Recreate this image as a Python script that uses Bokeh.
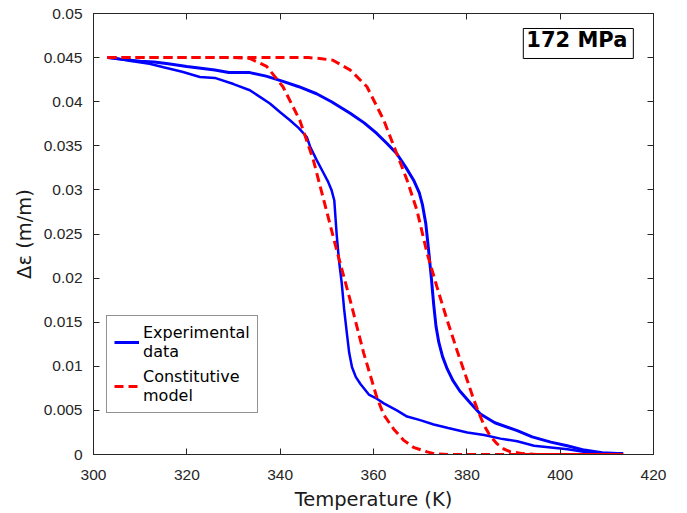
from bokeh.plotting import figure
from bokeh.models import LinearAxis, Legend, LegendItem, Label, Range1d, FixedTicker
from bokeh.embed import file_html
from bokeh.resources import INLINE

# Experimental data: heating branch (upper, transforms near 372 K)
exp_heat_T = [303.0, 306, 310, 313, 316, 320, 323, 326, 329, 333.5, 337, 340.6, 344, 347.8,
              351, 355, 358, 360.7, 363, 365, 367, 368.6, 369.8, 370.5, 371.2, 371.8, 372.4,
              372.9, 373.4, 374.0, 374.8, 375.8, 377.0, 378.5, 380.8, 382.9, 386, 390.8, 394,
              398, 401.5, 405.2, 409, 412.3, 413.5]
exp_heat_eps = [0.0450, 0.0448, 0.0446, 0.0445, 0.0443, 0.0440, 0.0438, 0.0436, 0.0433, 0.0433,
                0.0429, 0.0423, 0.0417, 0.0409, 0.0400, 0.0387, 0.0376, 0.0364, 0.0352, 0.0341,
                0.0325, 0.0311, 0.0297, 0.0283, 0.0262, 0.0232, 0.0200, 0.0170, 0.0145, 0.0127,
                0.0111, 0.0097, 0.0084, 0.0072, 0.0058, 0.0046, 0.0036, 0.0027, 0.0020, 0.0014,
                0.0010, 0.0005, 0.0002, 0.0001, 0.0001]

# Experimental data: cooling branch (lower, transforms near 352 K)
exp_cool_T = [413.5, 408.8, 405, 401.6, 398, 394.4, 390.8, 387.2, 383.7, 380.1, 376, 372.9, 370,
              367.2, 365, 362.2, 360.8, 359, 357.2, 356.2, 355.4, 354.8, 354.3, 353.7, 353.2,
              352.6, 352.1, 351.6, 351.0, 350.2, 349.2, 347.8, 346.5, 345.7, 344, 342.1, 340,
              337.8, 335.5, 333.5, 330, 326, 322.8, 319, 315, 312, 308, 305, 303]
exp_cool_eps = [0.0001, 0.0001, 0.0003, 0.0006, 0.0008, 0.0010, 0.0015, 0.0018, 0.0022, 0.0025,
                0.0030, 0.0034, 0.0039, 0.0043, 0.0050, 0.0058, 0.0063, 0.0068, 0.0080, 0.0088,
                0.0099, 0.0115, 0.0137, 0.0165, 0.0194, 0.0220, 0.0250, 0.0288, 0.0300, 0.0310,
                0.0320, 0.0334, 0.0348, 0.0360, 0.0370, 0.0379, 0.0388, 0.0398, 0.0406, 0.0413,
                0.0420, 0.0427, 0.0428, 0.0434, 0.0439, 0.0443, 0.0446, 0.0449, 0.0450]

# Constitutive model: heating branch
mod_heat_T = [303, 320, 340, 346, 348.5, 351.3, 355, 358.6, 362.2, 365.0, 367.2, 369.3, 371.5,
              373.6, 375.8, 377.9, 380.1, 381.5, 382.5, 383.7, 385, 386.5, 388, 389.4, 392, 395,
              400, 413.5]
mod_heat_eps = [0.045, 0.045, 0.045, 0.045, 0.0449, 0.0447, 0.0436, 0.0417, 0.0379, 0.0341,
                0.0311, 0.0277, 0.0228, 0.0190, 0.0152, 0.0118, 0.0084, 0.0062, 0.0048, 0.0033,
                0.0021, 0.0012, 0.0006, 0.0003, 0.0001, 0.0, 0.0, 0.0]

# Constitutive model: cooling branch (listed in ascending temperature)
mod_cool_T = [303, 320, 330, 333.5, 337.1, 340.6, 344.2, 347.1, 350, 352.1, 355, 357.9, 360.7,
              362.2, 364.3, 366.5, 368.6, 371.5, 373, 376, 380, 413.5]
mod_cool_eps = [0.0450, 0.0450, 0.0450, 0.0449, 0.0440, 0.0417, 0.0379, 0.0334, 0.0275, 0.0232,
                0.0175, 0.0115, 0.0065, 0.0045, 0.0029, 0.0016, 0.0008, 0.0003, 0.0001, 0.0,
                0.0, 0.0]

x_ticks = [300, 320, 340, 360, 380, 400, 420]
y_ticks = [0, 0.005, 0.01, 0.015, 0.02, 0.025, 0.03, 0.035, 0.04, 0.045, 0.05]
y_tick_labels = ["0", "0.005", "0.01", "0.015", "0.02", "0.025", "0.03", "0.035", "0.04",
                 "0.045", "0.05"]

AX = "#262626"
TICK_FONT = "Liberation Sans"
LABEL_FONT = "DejaVu Sans"

p = figure(width=687, height=513, output_backend="svg", toolbar_location=None,
           x_range=Range1d(300, 420), y_range=Range1d(0, 0.05),
           min_border_left=93, min_border_right=34, min_border_top=13, min_border_bottom=59)
p.xgrid.visible = False
p.ygrid.visible = False
p.outline_line_color = AX
p.outline_line_width = 1
p.background_fill_color = "white"
p.border_fill_color = "white"

p.xaxis.ticker = FixedTicker(ticks=x_ticks)
p.yaxis.ticker = FixedTicker(ticks=y_ticks)
p.yaxis.major_label_overrides = dict(zip(y_ticks, y_tick_labels))
p.xaxis.axis_label = "Temperature (K)"
p.yaxis.axis_label = "Δε (m/m)"

for ax in [p.xaxis[0], p.yaxis[0]]:
    ax.axis_line_color = AX
    ax.major_tick_line_color = AX
    ax.major_tick_in = 6
    ax.major_tick_out = 0
    ax.minor_tick_line_color = None
    ax.major_label_text_font = TICK_FONT
    ax.major_label_text_font_size = "15.5px"
    ax.major_label_text_color = AX
    ax.axis_label_text_font = LABEL_FONT
    ax.axis_label_text_font_size = "19.5px"
    ax.axis_label_text_font_style = "normal"
    ax.axis_label_text_color = "#1a1a1a"
    ax.axis_label_standoff = 5
p.xaxis.major_label_standoff = 15
p.yaxis.major_label_standoff = 11

top_ax = LinearAxis(ticker=FixedTicker(ticks=x_ticks), major_label_text_color=None,
                    major_label_text_font_size="1px",
                    major_tick_in=6, major_tick_out=0, minor_tick_line_color=None,
                    axis_line_color=AX, major_tick_line_color=AX, major_label_standoff=0)
right_ax = LinearAxis(ticker=FixedTicker(ticks=y_ticks), major_label_text_color=None,
                      major_label_text_font_size="1px",
                      major_tick_in=6, major_tick_out=0, minor_tick_line_color=None,
                      axis_line_color=AX, major_tick_line_color=AX, major_label_standoff=0)
p.add_layout(top_ax, "above")
p.add_layout(right_ax, "right")

r_cool = p.line(exp_cool_T, exp_cool_eps, line_color="#0000ff", line_width=2.5)
r_heat = p.line(exp_heat_T, exp_heat_eps, line_color="#0000ff", line_width=3)
r_mc = p.line(mod_cool_T, mod_cool_eps, line_color="#ff0000", line_width=3, line_dash="9 5")
r_mh = p.line(mod_heat_T, mod_heat_eps, line_color="#ff0000", line_width=3, line_dash="9 5")

legend = Legend(items=[LegendItem(label="Experimental\ndata", renderers=[r_heat]),
                       LegendItem(label="Constitutive\nmodel", renderers=[r_mh])],
                location=(13, 41), orientation="vertical")
legend.label_text_font = LABEL_FONT
legend.label_text_font_size = "16px"
legend.label_text_color = "#000000"
legend.glyph_width = 25
legend.label_standoff = 4
legend.padding = 7
legend.spacing = 6
legend.margin = 0
legend.border_line_color = AX
legend.border_line_width = 1
legend.background_fill_color = "white"
legend.background_fill_alpha = 1
p.add_layout(legend, "center")

title_lbl = Label(x=392.1, y=0.0483, text="172 MPa", text_font=LABEL_FONT,
                  text_font_size="21px", text_font_style="bold", text_color="black",
                  text_align="left", text_baseline="top",
                  border_line_color="black", border_line_width=1,
                  background_fill_color="white", padding=(3, 6, 0, 6))
p.add_layout(title_lbl)

open("out.html", "w").write(file_html(p, INLINE))
